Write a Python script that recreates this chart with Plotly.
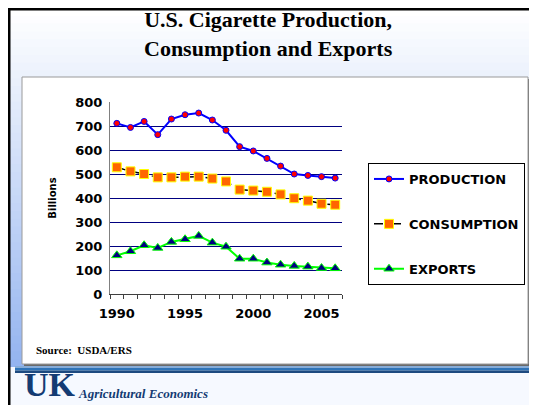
import plotly.graph_objects as go

years = list(range(1990, 2007))
production = [711, 694, 719, 664, 729, 747, 754, 725, 682, 614, 596, 565, 533, 500, 494, 489, 483]
consumption = [528, 511, 500, 486, 486, 489, 489, 481, 469, 435, 431, 426, 415, 399, 389, 376, 372]
exports = [161, 178, 203, 192, 217, 228, 242, 214, 197, 147, 147, 131, 122, 117, 114, 108, 107]
year_labels = [1990, 1995, 2000, 2005]
y_ticks = [0, 100, 200, 300, 400, 500, 600, 700, 800]

# page offset: the html body has an 8px margin, so the figure starts at (8, 8)
OFF = 8
PAGE_W, PAGE_H = 537, 405
W, H = PAGE_W - OFF, PAGE_H - OFF
L, R, T, B = 110, 342, 102, 294  # plot area, page pixels


def px(x):
    return (x - L) / (R - L)


def py(y):
    return (B - y) / (B - T)


def rect(x0, y0, x1, y1, fill, line=None, lw=0):
    return dict(type="rect", xref="paper", yref="paper", layer="below",
                x0=px(x0), x1=px(x1), y0=py(y1), y1=py(y0),
                fillcolor=fill, line=dict(color=line or fill, width=lw))


def mix(c0, c1, t):
    return "rgb(%d,%d,%d)" % tuple(round(a + (b - a) * t) for a, b in zip(c0, c1))


shapes = []
# background gradient (white at top -> light blue near the bar)
n = 46
for i in range(n):
    y0 = OFF + (367 - OFF) * i / n
    y1 = OFF + (367 - OFF) * (i + 1) / n + 1
    shapes.append(rect(OFF, y0, PAGE_W, y1, mix((255, 255, 255), (148, 180, 240), i / (n - 1))))
shapes.append(rect(OFF, 367, PAGE_W, PAGE_H, "#f6f9ff"))
# white panel with shadow
shapes.append(rect(24, 79, 530, 366, "#6a6a6a"))
shapes.append(rect(22, 77, 528, 364, "white", "#9a9a9a", 1))
# blue bar
shapes.append(rect(15, 366, PAGE_W, 368, "#86acd8"))
shapes.append(rect(15, 368, PAGE_W, 370.5, "#2f74b8"))
shapes.append(rect(15, 370.5, PAGE_W, 373, "#1d4a80"))
# black frame
shapes.append(dict(type="line", xref="paper", yref="paper", x0=px(9), x1=px(9),
                   y0=py(OFF), y1=py(PAGE_H), line=dict(color="black", width=3)))
shapes.append(dict(type="line", xref="paper", yref="paper", x0=px(OFF), x1=px(PAGE_W),
                   y0=py(9), y1=py(9), line=dict(color="black", width=3)))

fig = go.Figure()
fig.add_trace(go.Scatter(
    x=years, y=production, name="PRODUCTION", mode="lines+markers",
    line=dict(color="#0000ff", width=2),
    marker=dict(symbol="circle", size=6, color="#ff0000", line=dict(color="#0000ff", width=1)),
    legendgroup="a",
))
fig.add_trace(go.Scatter(
    x=years, y=consumption, name="CONSUMPTION", mode="lines+markers",
    line=dict(color="black", width=1.5, dash="dash"),
    marker=dict(symbol="square", size=9, color="#ff6600", line=dict(color="#ffff00", width=1)),
    legendgroup="b",
))
fig.add_trace(go.Scatter(
    x=years, y=exports, name="EXPORTS", mode="lines+markers",
    line=dict(color="#00ff00", width=2),
    marker=dict(symbol="triangle-up", size=9, color="#000080", line=dict(color="#00ff00", width=1)),
    legendgroup="c",
))

sans = "DejaVu Sans, Arial"
serif = "Liberation Serif, Times New Roman"
tick_font = dict(family=sans, size=13, color="black", weight="bold")

fig.update_layout(
    width=W, height=H,
    margin=dict(l=L - OFF, r=PAGE_W - R, t=T - OFF, b=PAGE_H - B, pad=0),
    paper_bgcolor="white", plot_bgcolor="rgba(0,0,0,0)",
    shapes=shapes,
    xaxis=dict(range=[1989.5, 2006.5], tickvals=year_labels, ticks="", ticklabelstandoff=7,
               tickfont=tick_font, showgrid=False, zeroline=False,
               showline=True, linecolor="#404040", linewidth=1,
               minor=dict(ticks="outside", tick0=1989.5, dtick=1, ticklen=4,
                          tickcolor="#404040", showgrid=False)),
    yaxis=dict(range=[0, 800], tickvals=y_ticks, ticks="outside", ticklen=4,
               tickcolor="rgba(0,0,0,0)", tickfont=tick_font,
               showgrid=True, gridcolor="#000080", gridwidth=1, zeroline=False,
               showline=True, linecolor="#808080", linewidth=1,
               title=dict(text="Billions", standoff=16,
                          font=dict(family=sans, size=10, color="black", weight="bold"))),
    legend=dict(x=px(368), y=py(163), xanchor="left", yanchor="top",
                bgcolor="white", bordercolor="black", borderwidth=1,
                tracegroupgap=25, itemwidth=30,
                font=dict(family=sans, size=13, color="black", weight="bold")),
    annotations=[
        dict(text="<b>U.S. Cigarette Production,<br>Consumption and Exports</b>",
             xref="paper", yref="paper", x=px(268), y=py(34), xanchor="center", yanchor="middle",
             showarrow=False, align="center",
             font=dict(family=serif, size=22, color="black")),
        dict(text="<b>Source:  USDA/ERS</b>", xref="paper", yref="paper",
             x=px(34), y=py(350), xanchor="left", yanchor="middle", showarrow=False,
             font=dict(family=serif, size=11, color="black")),
        dict(text="<b>UK</b>", xref="paper", yref="paper",
             x=px(22), y=py(405), xanchor="left", yanchor="bottom", showarrow=False,
             font=dict(family=serif, size=34, color="#143b73")),
        dict(text="<b><i>Agricultural Economics</i></b>", xref="paper", yref="paper",
             x=px(76), y=py(393), xanchor="left", yanchor="middle", showarrow=False,
             font=dict(family=serif, size=13, color="#143b73")),
    ],
)

fig.write_html("out.html")
